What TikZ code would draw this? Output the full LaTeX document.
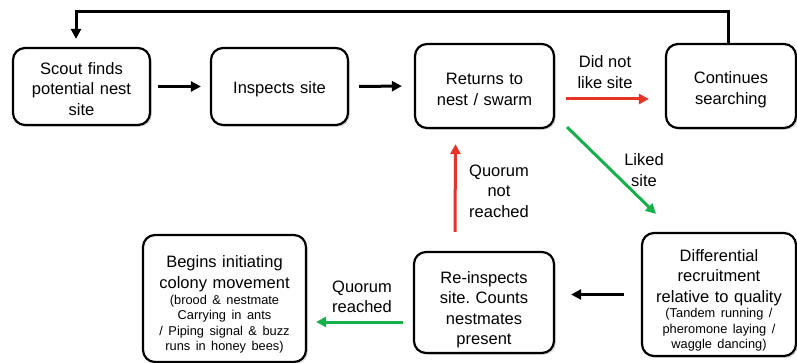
\documentclass[tikz,border=0pt]{standalone}
\usepackage{fontspec}
\setmainfont{Liberation Sans}
\usepackage{tikz}
\usetikzlibrary{arrows.meta,shadows,calc}

\definecolor{arrred}{RGB}{229,52,40}
\definecolor{arrgreen}{RGB}{22,176,74}
\newcommand{\bigtxt}{\fontsize{16.5}{20.5}\selectfont\frenchspacing}
\newcommand{\smtxt}{\fontsize{12.8}{15.6}\selectfont}
\newcommand{\pushdown}[1]{\par\vspace*{#1}}

\begin{document}
\begin{tikzpicture}[x=1pt,y=-1pt,
    box/.style={draw=black,line width=2.2pt,rounded corners=12pt,fill=white,
      drop shadow={shadow xshift=1.8pt,shadow yshift=-1.8pt,fill=black!30},
      align=center,font=\bigtxt,inner sep=0pt,text width=150pt},
    arr/.style={line width=3pt,-{Triangle[length=10pt,width=10pt]}},
    lbl/.style={align=center,font=\bigtxt,inner sep=0pt}]
\useasboundingbox (0,0) rectangle (797,363);

% top row
\node[box,minimum width=137pt,minimum height=77pt,text width=130pt] (scout) at (81.5,86.5)
  {\pushdown{-4pt}Scout finds\\potential nest\\site};
\node[box,minimum width=137pt,minimum height=77pt,text width=130pt] (inspect) at (279.5,86.5)
  {\pushdown{-3pt}Inspects site};
\node[box,minimum width=139pt,minimum height=84pt,text width=130pt] (returns) at (484.5,86)
  {\pushdown{-2pt}Returns to\\nest / swarm};
\node[box,minimum width=130pt,minimum height=84pt,text width=125pt] (search) at (731,86)
  {\pushdown{-1pt}Continues\\searching};

% bottom row
\node[box,minimum width=154pt,minimum height=123pt] (recruit) at (719,294.5)
  {\pushdown{3pt}Differential\\recruitment\\relative to quality\par
   {\smtxt (Tandem running /\\pheromone laying /\\waggle dancing)\par}};
\node[box,minimum width=140pt,minimum height=101pt,text width=134pt] (reinspect) at (484,302.5)
  {\pushdown{6pt}Re-inspects\\site. Counts\\nestmates\\present};
\node[box,minimum width=163pt,minimum height=127pt,text width=158pt] (begins) at (224.5,298.5)
  {\pushdown{4pt}Begins initiating\\colony movement\par
   {\smtxt (brood \& nestmate\\Carrying in ants\\/ Piping signal \& buzz\\runs in honey bees)\par}};

% arrows
\draw[arr,shorten <=7pt,shorten >=9pt] (scout.east) -- (inspect.west);
\draw[arr,shorten <=10pt,shorten >=12pt] (inspect.east) -- (returns.west);
\draw[arr,arrred,shorten <=11pt,shorten >=16pt] ([yshift=-13pt]returns.east) -- ([yshift=-13pt]search.west);
\draw[arr,arrgreen] ([shift={(12,-2)}]returns.south east) -- ([shift={(15,-18)}]recruit.north west);
\draw[arr,shorten <=17pt,shorten >=16pt] (recruit.west) -- (recruit.west -| reinspect.east);
\draw[arr,arrred] ([xshift=-29pt,yshift=19pt]reinspect.north) -- ([xshift=-29pt,yshift=-15pt]returns.south);
\draw[arr,arrgreen,shorten <=10pt,shorten >=9pt] ([yshift=-19.5pt]reinspect.west) -- ([yshift=-19.5pt]reinspect.west -| begins.east);

\coordinate (topline) at (0,12);
\draw[arr] ([xshift=-3pt]search.north) -- ([xshift=-3pt]search.north |- topline)
  -| ([xshift=-5.5pt,yshift=8pt]scout.north);

% labels
\node[lbl] (dislike) at (605,72) {Did not\\like site};
\node[lbl] (liked) at (644,170) {Liked\\site};
\node[lbl] (notreached) at (499,191) {Quorum\\not\\reached};
\node[lbl] (reached) at (362,297) {Quorum\\reached};
\end{tikzpicture}
\end{document}
